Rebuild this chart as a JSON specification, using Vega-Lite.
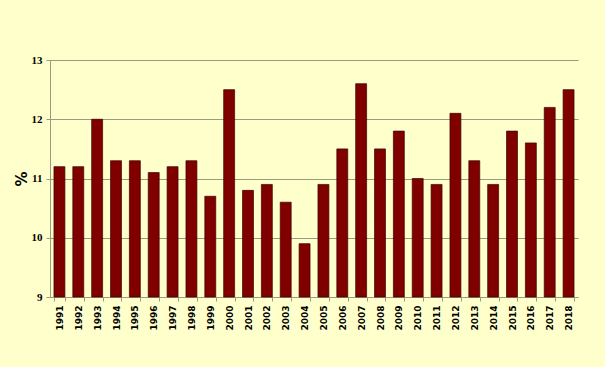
{
  "$schema": "https://vega.github.io/schema/vega-lite/v6.json",
  "width": 528,
  "height": 237,
  "autosize": {"type": "none"},
  "padding": {"left": 50, "top": 60, "right": 27, "bottom": 70},
  "background": "#FFFFCC",
  "config": {"view": {"stroke": null}},
  "data": {"values": [
    {"year": "1991", "value": 11.2}, {"year": "1992", "value": 11.2}, {"year": "1993", "value": 12.0},
    {"year": "1994", "value": 11.3}, {"year": "1995", "value": 11.3}, {"year": "1996", "value": 11.1},
    {"year": "1997", "value": 11.2}, {"year": "1998", "value": 11.3}, {"year": "1999", "value": 10.7},
    {"year": "2000", "value": 12.5}, {"year": "2001", "value": 10.8}, {"year": "2002", "value": 10.9},
    {"year": "2003", "value": 10.6}, {"year": "2004", "value": 9.9}, {"year": "2005", "value": 10.9},
    {"year": "2006", "value": 11.5}, {"year": "2007", "value": 12.6}, {"year": "2008", "value": 11.5},
    {"year": "2009", "value": 11.8}, {"year": "2010", "value": 11.0}, {"year": "2011", "value": 10.9},
    {"year": "2012", "value": 12.1}, {"year": "2013", "value": 11.3}, {"year": "2014", "value": 10.9},
    {"year": "2015", "value": 11.8}, {"year": "2016", "value": 11.6}, {"year": "2017", "value": 12.2},
    {"year": "2018", "value": 12.5}
  ]},
  "mark": {"type": "bar", "fill": "#800000", "stroke": "#3a0000", "strokeWidth": 0.7},
  "encoding": {
    "x": {
      "field": "year", "type": "ordinal",
      "scale": {"paddingInner": 0.42, "paddingOuter": 0.21},
      "axis": {
        "title": null, "labelAngle": -90, "labelFont": "DejaVu Sans", "labelFontWeight": "bold",
        "labelFontSize": 9, "labelColor": "#000000", "labelPadding": 4,
        "domain": true, "domainColor": "#9C9A80", "ticks": true, "tickColor": "#9C9A80",
        "tickSize": 4, "tickBand": "extent", "grid": false
      }
    },
    "y": {
      "field": "value", "type": "quantitative",
      "scale": {"domain": [9, 13], "nice": false, "zero": false},
      "axis": {
        "title": "%", "titleFont": "DejaVu Sans", "titleFontSize": 15, "titleFontWeight": "bold",
        "titleColor": "#000000", "titlePadding": 2,
        "values": [9, 10, 11, 12, 13], "format": "d",
        "labelFont": "Liberation Serif", "labelFontWeight": "bold", "labelFontSize": 11,
        "labelColor": "#000000", "labelPadding": 4,
        "domain": true, "domainColor": "#9C9A80", "ticks": true, "tickColor": "#9C9A80", "tickSize": 4,
        "grid": true, "gridColor": "#9C9A80", "gridWidth": 1
      }
    },
    "y2": {"datum": 9}
  }
}
